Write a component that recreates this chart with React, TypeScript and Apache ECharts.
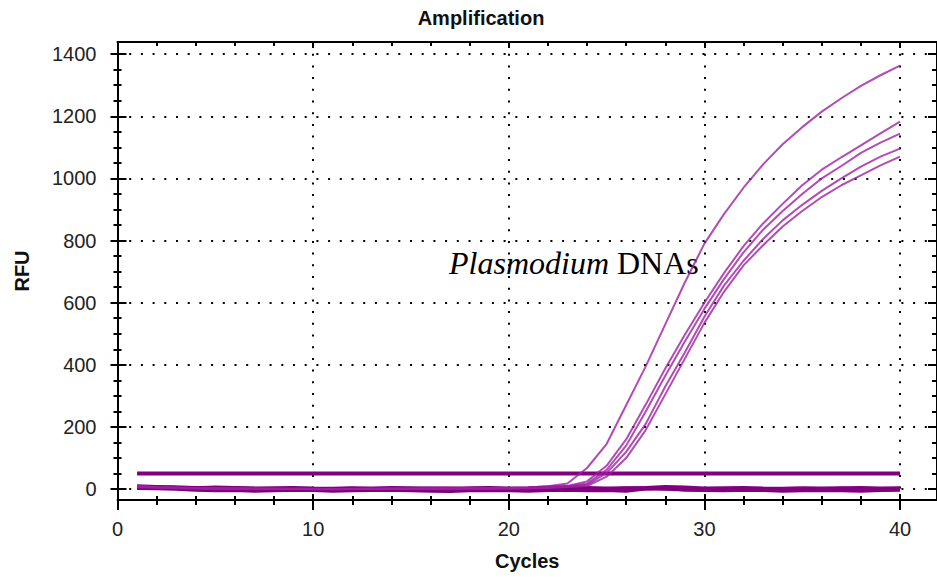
import React, { useEffect, useRef } from "react";
import * as echarts from "echarts";

const cycles = [1, 2, 3, 4, 5, 6, 7, 8, 9, 10, 11, 12, 13, 14, 15, 16, 17, 18, 19, 20, 21, 22, 23, 24, 25, 26, 27, 28, 29, 30, 31, 32, 33, 34, 35, 36, 37, 38, 39, 40];

const curveA = [10, 7, 5, 4, 3, 2, 2, 1, 1, 1, 0, 0, 1, 1, 1, 2, 2, 2, 3, 4, 5, 9, 18, 68, 145, 270, 395, 530, 665, 790, 885, 970, 1045, 1110, 1165, 1215, 1258, 1298, 1332, 1363];
const curveB1 = [8, 6, 4, 3, 2, 2, 1, 1, 0, 0, 0, 1, 1, 1, 1, 1, 2, 2, 2, 3, 4, 6, 10, 25, 75, 160, 272, 388, 497, 600, 695, 782, 855, 918, 978, 1028, 1068, 1106, 1145, 1183];
const curveB2 = [7, 5, 4, 3, 2, 1, 1, 0, 0, -1, 0, 0, 1, 1, 1, 2, 2, 2, 3, 3, 4, 6, 9, 18, 62, 140, 250, 365, 475, 580, 676, 762, 835, 895, 950, 1000, 1040, 1082, 1115, 1144];
const curveC1 = [9, 6, 5, 3, 2, 2, 1, 1, 1, 0, 0, 0, 0, 1, 1, 1, 2, 2, 2, 3, 3, 5, 8, 14, 52, 120, 210, 330, 440, 555, 655, 735, 805, 865, 915, 960, 1000, 1038, 1070, 1096];
const curveC2 = [6, 5, 3, 2, 2, 1, 1, 0, 0, 0, -1, 0, 0, 1, 1, 1, 1, 2, 2, 2, 3, 4, 7, 10, 40, 100, 190, 305, 420, 535, 635, 720, 785, 845, 895, 940, 978, 1010, 1042, 1070];

const negative1 = [9, 7, 5, 4, 2, 3, 1, 0, -2, -1, 0, 1, -1, -2, 0, 1, 2, 0, -1, -3, -2, 0, 1, -1, 0, 2, 3, 1, -1, -2, 0, 1, -1, -3, -2, 0, 1, -1, -2, 0];
const negative2 = [4, 3, 1, -2, -4, -3, -5, -4, -2, -3, -5, -4, -3, -2, -4, -5, -6, -4, -3, -4, -5, -3, -2, -4, -3, -5, 2, 4, -1, -3, -4, -2, -3, -5, -4, -3, -4, -5, -3, -2];
const negative3 = [7, 6, 5, 3, 5, 4, 2, 3, 4, 2, 1, 3, 2, 4, 3, 2, 1, 3, 4, 2, 3, 5, 6, 4, 2, 3, 4, 7, 5, 2, 3, 4, 2, 1, 3, 2, 3, 4, 2, 3];

const thresholdX = [1, 40];
const thresholdValue = 50;

const xMajorTicks = [0, 10, 20, 30, 40];
const xMinorTicks = [2, 4, 6, 8, 12, 14, 16, 18, 22, 24, 26, 28, 32, 34, 36, 38];
const yMajorTicks = [0, 200, 400, 600, 800, 1000, 1200, 1400];
const yMinorTicks = [50, 100, 150, 250, 300, 350, 450, 500, 550, 650, 700, 750, 850, 900, 950, 1050, 1100, 1150, 1250, 1300, 1350];

const X_MIN = 0;
const X_MAX = 41.89;
const Y_MIN = -35;
const Y_MAX = 1439;

const toPairs = (vals: number[]) => cycles.map((c, i) => [c, vals[i]]);

export default function App() {
  const ref = useRef<HTMLDivElement>(null);

  useEffect(() => {
    if (!ref.current) return;
    const chart = echarts.init(ref.current, null, { renderer: "svg" });
    const black = "#000";
    const labelFont = "Liberation Sans";

    const tickAxis = (
      dim: "x" | "y",
      position: string,
      values: number[],
      length: number,
      inside: boolean,
      extra: any = {}
    ) => ({
      type: "value",
      position,
      min: dim === "x" ? X_MIN : Y_MIN,
      max: dim === "x" ? X_MAX : Y_MAX,
      axisLine: { show: false, onZero: false },
      axisTick: { show: true, inside, length, customValues: values, lineStyle: { color: black, width: 2 } },
      axisLabel: { show: false },
      splitLine: { show: false },
      ...extra,
    });

    const option: any = {
      animation: false,
      grid: { left: 117.5, top: 42, width: 821.5, height: 458, containLabel: false },
      xAxis: [
        {
          type: "value",
          position: "bottom",
          min: X_MIN,
          max: X_MAX,
          name: "Cycles",
          nameLocation: "middle",
          nameGap: 51,
          nameTextStyle: { fontFamily: labelFont, fontWeight: "bold", fontSize: 20, color: "#111" },
          axisLine: { show: true, onZero: false, lineStyle: { color: black, width: 2 } },
          axisTick: { show: true, length: 10, customValues: xMajorTicks, lineStyle: { color: black, width: 2 } },
          axisLabel: {
            show: true,
            customValues: xMajorTicks,
            margin: 19,
            fontFamily: labelFont,
            fontSize: 20,
            color: "#222",
            formatter: (v: number) => String(v),
          },
          splitLine: { show: true, lineStyle: { color: black, width: 2, type: [2, 9.7] } },
        },
        tickAxis("x", "bottom", xMajorTicks, 6, true),
        tickAxis("x", "bottom", xMinorTicks, 5, false),
        tickAxis("x", "bottom", xMinorTicks, 4, true),
        tickAxis("x", "top", xMajorTicks, 6, true, {
          axisLine: { show: true, onZero: false, lineStyle: { color: black, width: 2 } },
        }),
        tickAxis("x", "top", xMinorTicks, 4, true),
      ],
      yAxis: [
        {
          type: "value",
          position: "left",
          min: Y_MIN,
          max: Y_MAX,
          name: "RFU",
          nameLocation: "middle",
          nameGap: 86,
          nameTextStyle: { fontFamily: labelFont, fontWeight: "bold", fontSize: 20, color: "#111" },
          axisLine: { show: true, onZero: false, lineStyle: { color: black, width: 2 } },
          axisTick: { show: true, length: 7, customValues: yMajorTicks, lineStyle: { color: black, width: 2 } },
          axisLabel: {
            show: true,
            customValues: yMajorTicks,
            margin: 21,
            fontFamily: labelFont,
            fontSize: 20,
            color: "#222",
            formatter: (v: number) => String(v),
          },
          splitLine: { show: true, lineStyle: { color: black, width: 2, type: [2, 9.7] } },
        },
        tickAxis("y", "left", yMajorTicks, 9, true),
        tickAxis("y", "left", yMinorTicks, 4, false),
        tickAxis("y", "left", yMinorTicks, 4, true),
        tickAxis("y", "right", yMajorTicks, 9, true, {
          axisLine: { show: true, onZero: false, lineStyle: { color: black, width: 2 } },
        }),
        tickAxis("y", "right", yMinorTicks, 5, true),
      ],
      graphic: [
        {
          type: "text",
          x: 481,
          y: 18,
          style: {
            text: "Amplification",
            fontFamily: labelFont,
            fontWeight: "bold",
            fontSize: 20,
            fill: "#111",
            align: "center",
            verticalAlign: "middle",
          },
        },
        {
          type: "text",
          x: 449,
          y: 263,
          style: {
            text: "{i|Plasmodium} DNAs",
            fontFamily: "Liberation Serif",
            fontSize: 32,
            fill: "#000",
            verticalAlign: "middle",
            rich: {
              i: { fontFamily: "Liberation Serif", fontSize: 32, fontStyle: "italic", fill: "#000" },
            },
          },
        },
      ],
      series: [
        ...[negative1, negative2, negative3].map((vals, k) => ({
          name: "Negative " + (k + 1),
          type: "line",
          xAxisIndex: 0,
          yAxisIndex: 0,
          data: toPairs(vals),
          symbol: "none",
          lineStyle: { color: "#800080", width: 4 },
          silent: true,
        })),
        {
          name: "Threshold",
          type: "line",
          xAxisIndex: 0,
          yAxisIndex: 0,
          data: thresholdX.map((c) => [c, thresholdValue]),
          symbol: "none",
          lineStyle: { color: "#800080", width: 4 },
          silent: true,
        },
        ...[curveA, curveB1, curveB2, curveC1, curveC2].map((vals, k) => ({
          name: "Sample " + (k + 1),
          type: "line",
          xAxisIndex: 0,
          yAxisIndex: 0,
          data: toPairs(vals),
          symbol: "none",
          lineStyle: { color: "#9C1FA0", width: 2, opacity: 0.8 },
          silent: true,
        })),
      ],
    };

    chart.setOption(option);
    return () => chart.dispose();
  }, []);

  return (
    <div
      ref={ref}
      style={{ position: "absolute", left: 0, top: 0, width: 937, height: 578, background: "#fff" }}
    />
  );
}
